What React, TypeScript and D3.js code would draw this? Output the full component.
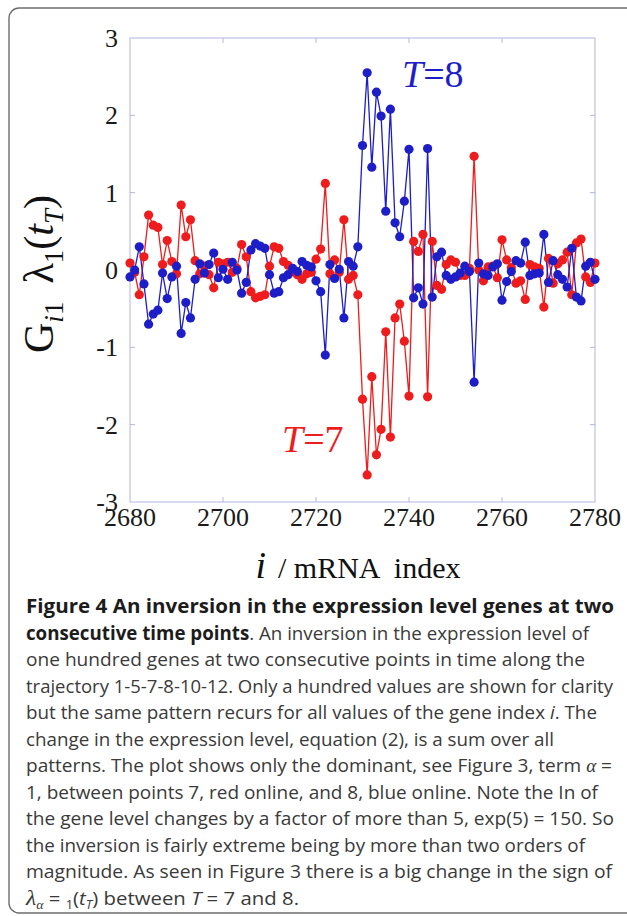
import { useEffect, useRef } from "react";
import * as d3 from "d3";

const W = 627, H = 916;

// gene index 2680..2780
const startIndex = 2680;
const redT7 = [
  0.09, -0.03, -0.32, 0.17, 0.71, 0.58, 0.55, 0.07, 0.38, 0.11,
  -0.05, 0.84, 0.43, 0.65, 0.12, -0.05, 0.05, -0.06, -0.23, 0.10,
  0.08, 0.10, -0.03, 0.02, 0.33, 0.17, -0.28, -0.36, -0.34, -0.32,
  0.05, 0.30, 0.28, 0.11, 0.06, -0.02, -0.06, -0.12, -0.05, -0.03,
  0.14, 0.27, 1.12, -0.05, 0.13, -0.03, 0.65, -0.12, -0.07, -0.32,
  -1.67, -2.65, -1.38, -2.39, -2.06, -0.80, -2.16, -0.62, -0.44, -0.92,
  -1.63, 0.37, 0.24, 0.46, -1.64, 0.37, -0.20, -0.25, 0.07, 0.13,
  0.10, -0.07, -0.07, 0.02, 1.47, 0.00, -0.14, 0.04, 0.05, -0.10,
  0.39, 0.13, 0.03, -0.17, -0.14, -0.38, 0.07, 0.04, 0.02, -0.48,
  0.15, -0.17, 0.08, 0.13, 0.23, -0.32, 0.35, 0.40, -0.09, -0.16,
  0.09
];
const blueT8 = [
  -0.09, 0.00, 0.30, -0.18, -0.70, -0.57, -0.52, -0.04, -0.37, -0.09,
  0.05, -0.82, -0.42, -0.62, -0.12, 0.08, -0.04, 0.07, 0.22, -0.10,
  0.01, -0.12, 0.10, 0.00, -0.30, -0.16, 0.26, 0.34, 0.31, 0.28,
  -0.06, -0.30, -0.28, -0.10, -0.06, 0.02, -0.02, 0.11, 0.06, 0.04,
  -0.14, -0.28, -1.10, 0.07, -0.11, 0.01, -0.62, 0.11, 0.05, 0.30,
  1.61, 2.55, 1.33, 2.30, 1.99, 0.76, 2.08, 0.61, 0.43, 0.89,
  1.56, -0.36, -0.23, -0.44, 1.57, -0.35, 0.17, 0.23, -0.07, -0.12,
  -0.09, -0.04, 0.05, -0.02, -1.45, 0.09, -0.05, -0.07, 0.04, 0.08,
  -0.39, -0.15, -0.02, 0.12, 0.09, 0.36, -0.07, -0.05, -0.04, 0.46,
  -0.16, 0.12, -0.06, -0.12, -0.22, 0.28, -0.35, -0.40, 0.05, 0.10,
  -0.12
];
const xTicks = [2680, 2700, 2720, 2740, 2760, 2780];
const yTicks = [-3, -2, -1, 0, 1, 2, 3];

const captionLines: { bold?: string; text: string; end: number }[] = [
  { bold: "Figure 4 An inversion in the expression level genes at two", text: "", end: 614 },
  { bold: "consecutive time points", text: ". An inversion in the expression level of", end: 589 },
  { text: "one hundred genes at two consecutive points in time along the", end: 585 },
  { text: "trajectory 1-5-7-8-10-12. Only a hundred values are shown for clarity", end: 613 },
  { text: "but the same pattern recurs for all values of the gene index ", end: 597 },
  { text: "change in the expression level, equation (2), is a sum over all", end: 554 },
  { text: "patterns. The plot shows only the dominant, see Figure 3, term ", end: 612 },
  { text: "1, between points 7, red online, and 8, blue online. Note the In of", end: 598 },
  { text: "the gene level changes by a factor of more than 5, exp(5) = 150. So", end: 614 },
  { text: "the inversion is fairly extreme being by more than two orders of", end: 585 },
  { text: "magnitude. As seen in Figure 3 there is a big change in the sign of", end: 612 },
];

const RED = "#ee1c1c";
const BLUE = "#1e1ec8";
const FRAME = "#b4b4e2";
const SERIF = "'Liberation Serif', 'Times New Roman', serif";
const SANS = "'Open Sans', 'Noto Sans', sans-serif";

export default function App() {
  const ref = useRef<SVGSVGElement | null>(null);

  useEffect(() => {
    const svg = d3.select(ref.current);
    svg.selectAll("*").remove();

    const m = { l: 130, r: 595, t: 38, b: 502 };
    const x = d3.scaleLinear().domain([2680, 2780]).range([m.l, m.r]);
    const y = d3.scaleLinear().domain([-3, 3]).range([m.b, m.t]);

    // card
    svg.append("rect")
      .attr("x", 9).attr("y", 8)
      .attr("width", 640).attr("height", 905)
      .attr("rx", 10)
      .attr("fill", "white")
      .attr("stroke", "#6e6e6e")
      .attr("stroke-width", 1.4);

    // frame + inner ticks
    svg.append("rect")
      .attr("x", m.l).attr("y", m.t)
      .attr("width", m.r - m.l).attr("height", m.b - m.t)
      .attr("fill", "none")
      .attr("stroke", FRAME)
      .attr("stroke-width", 1);

    const tk = 5;
    const tg = svg.append("g").attr("stroke", FRAME).attr("stroke-width", 1);
    xTicks.slice(1, -1).forEach(t => {
      tg.append("line").attr("x1", x(t)).attr("x2", x(t)).attr("y1", m.b).attr("y2", m.b - tk);
      tg.append("line").attr("x1", x(t)).attr("x2", x(t)).attr("y1", m.t).attr("y2", m.t + tk);
    });
    yTicks.slice(1, -1).forEach(t => {
      tg.append("line").attr("x1", m.l).attr("x2", m.l + tk).attr("y1", y(t)).attr("y2", y(t));
      tg.append("line").attr("x1", m.r).attr("x2", m.r - tk).attr("y1", y(t)).attr("y2", y(t));
    });

    // tick labels
    xTicks.forEach(t => {
      svg.append("text")
        .attr("x", x(t)).attr("y", 526)
        .attr("text-anchor", "middle")
        .attr("font-family", SERIF).attr("font-size", 26)
        .attr("fill", "#1a1a1a")
        .text(t);
    });
    yTicks.forEach(t => {
      svg.append("text")
        .attr("x", 118).attr("y", y(t) + 9)
        .attr("text-anchor", "end")
        .attr("font-family", SERIF).attr("font-size", 26)
        .attr("fill", "#1a1a1a")
        .text(t);
    });

    // series
    const series = [
      { vals: redT7, color: RED },
      { vals: blueT8, color: BLUE },
    ];
    const line = d3.line<number>()
      .x((_, i) => x(startIndex + i))
      .y(d => y(d));
    series.forEach(s => {
      svg.append("path")
        .datum(s.vals)
        .attr("d", line)
        .attr("fill", "none")
        .attr("stroke", s.color)
        .attr("stroke-width", 1.3);
    });
    series.forEach(s => {
      svg.append("g")
        .selectAll("circle")
        .data(s.vals)
        .enter()
        .append("circle")
        .attr("cx", (_, i) => x(startIndex + i))
        .attr("cy", d => y(d))
        .attr("r", 4.6)
        .attr("fill", s.color);
    });

    // series labels
    const t8 = svg.append("text")
      .attr("x", 402).attr("y", 87)
      .attr("font-family", SERIF).attr("font-size", 38)
      .attr("font-style", "italic").attr("fill", BLUE);
    t8.append("tspan").text("T");
    t8.append("tspan").attr("font-style", "normal").text("=8");

    const t7 = svg.append("text")
      .attr("x", 282).attr("y", 452)
      .attr("font-family", SERIF).attr("font-size", 38)
      .attr("font-style", "italic").attr("fill", RED);
    t7.append("tspan").text("T");
    t7.append("tspan").attr("font-style", "normal").text("=7");

    // y title
    const yt = svg.append("text")
      .attr("transform", "translate(53,274) rotate(-90)")
      .attr("text-anchor", "middle")
      .attr("font-family", SERIF).attr("font-size", 42)
      .attr("fill", "#111");
    yt.append("tspan").text("G");
    yt.append("tspan").attr("font-size", 27).attr("dy", 10).attr("font-style", "italic").text("i");
    yt.append("tspan").attr("font-size", 27).text("1");
    yt.append("tspan").attr("dy", -10).attr("dx", 18).text("λ");
    yt.append("tspan").attr("font-size", 27).attr("dy", 10).text("1");
    yt.append("tspan").attr("dy", -10).text("(");
    yt.append("tspan").attr("font-style", "italic").text("t");
    yt.append("tspan").attr("font-size", 27).attr("dy", 10).attr("font-style", "italic").text("T");
    yt.append("tspan").attr("dy", -10).text(")");

    // x title
    const xt = svg.append("text")
      .attr("x", 358).attr("y", 578)
      .attr("text-anchor", "middle")
      .attr("font-family", SERIF).attr("font-size", 30)
      .attr("fill", "#111");
    xt.append("tspan").attr("font-style", "italic").attr("font-size", 38).text("i");
    xt.append("tspan").attr("dx", 12).text("/ mRNA  index").attr("xml:space", "preserve");

    // caption
    const cx = 26, cy0 = 613, lh = 26.5;
    const cap = svg.append("g").attr("font-family", SANS).attr("font-size", 19);
    captionLines.forEach((ln, k) => {
      const t = cap.append("text")
        .attr("x", cx).attr("y", cy0 + k * lh)
        .attr("textLength", ln.end - cx)
        .attr("lengthAdjust", "spacingAndGlyphs")
        .attr("fill", "#3a3a3a");
      if (ln.bold) t.append("tspan").attr("font-weight", 700).attr("fill", "#1c1c1c").text(ln.bold);
      if (ln.text) t.append("tspan").text(ln.text);
      if (k === 4) {
        t.append("tspan").attr("font-style", "italic").text("i");
        t.append("tspan").text(". The");
      }
      if (k === 6) {
        t.append("tspan").attr("font-family", SERIF).attr("font-style", "italic").text("α");
        t.append("tspan").text(" =");
      }
    });
    const last = cap.append("text")
      .attr("x", cx).attr("y", cy0 + 11 * lh)
      .attr("textLength", 299 - cx)
      .attr("lengthAdjust", "spacingAndGlyphs")
      .attr("fill", "#3a3a3a");
    last.append("tspan").attr("font-family", SERIF).attr("font-style", "italic").attr("font-size", 22).text("λ");
    last.append("tspan").attr("font-family", SERIF).attr("font-style", "italic").attr("font-size", 13).attr("dy", 4).text("α");
    last.append("tspan").attr("dy", -4).text(" = ");
    last.append("tspan").attr("font-size", 12).attr("dy", 4).text("1");
    last.append("tspan").attr("dy", -4).text("(");
    last.append("tspan").attr("font-style", "italic").text("t");
    last.append("tspan").attr("font-style", "italic").attr("font-size", 12).attr("dy", 4).text("T");
    last.append("tspan").attr("dy", -4).text(") between ");
    last.append("tspan").attr("font-style", "italic").text("T");
    last.append("tspan").text(" = 7 and 8.");
  }, []);

  return (
    <svg
      ref={ref}
      width={W}
      height={H}
      viewBox={`0 0 ${W} ${H}`}
      style={{ position: "absolute", left: 0, top: 0, display: "block", background: "white" }}
    />
  );
}
